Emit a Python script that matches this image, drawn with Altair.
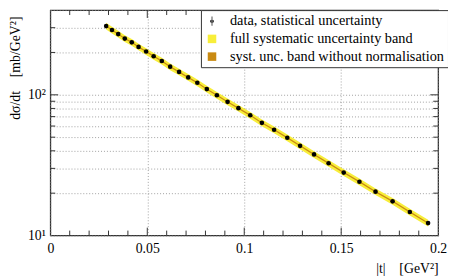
import altair as alt
import pandas as pd

# |t| values [GeV^2] and dsigma/dt [mb/GeV^2]
t_vals = [0.0288, 0.0318, 0.0350, 0.0384, 0.0420, 0.0455, 0.0494, 0.0533, 0.0575, 0.0618,
          0.0664, 0.0711, 0.0758, 0.0807, 0.0859, 0.0914, 0.0970, 0.1031, 0.1091, 0.1154,
          0.1222, 0.1288, 0.1360, 0.1435, 0.1513, 0.1594, 0.1677, 0.1765, 0.1854, 0.1948]
dsdt = [308, 289, 270, 251, 236, 219, 203, 188, 174, 158.5,
        145.5, 133, 121.8, 109.8, 99.4, 89.1, 80.4, 71.6, 63.2, 56.4,
        49.5, 43.4, 37.7, 32.6, 28.0, 24.1, 20.5, 17.5, 14.7, 12.25]
# relative systematic uncertainties (full / without normalisation)
syst_full = [0.055, 0.055, 0.055, 0.055, 0.055, 0.055, 0.055, 0.055, 0.055, 0.055,
             0.055, 0.055, 0.055, 0.055, 0.055, 0.055, 0.055, 0.055, 0.055, 0.055,
             0.055, 0.055, 0.055, 0.055, 0.055, 0.055, 0.055, 0.055, 0.055, 0.055]
syst_nonorm = [0.012, 0.012, 0.012, 0.012, 0.012, 0.012, 0.012, 0.012, 0.012, 0.012,
               0.012, 0.012, 0.012, 0.012, 0.012, 0.012, 0.012, 0.012, 0.012, 0.012,
               0.012, 0.012, 0.012, 0.012, 0.012, 0.012, 0.012, 0.012, 0.012, 0.012]

legend_labels = ["data, statistical uncertainty", "full systematic uncertainty band",
                 "syst. unc. band without normalisation"]
legend_colors = ["#000000", "#f8ee3a", "#c98a12"]

x_minor_ticks = [0.01, 0.02, 0.03, 0.04, 0.06, 0.07, 0.08, 0.09, 0.11, 0.12, 0.13, 0.14,
                 0.16, 0.17, 0.18, 0.19]
x_major_ticks = [0.05, 0.1, 0.15]
x_label_values = [0, 0.05, 0.1, 0.15, 0.2]
y_minor_ticks = [20, 30, 40, 50, 60, 70, 80, 90, 200, 300]
y_major_ticks = [100]
y_axis_values = [10, 20, 30, 40, 50, 60, 70, 80, 90, 100, 200, 300, 400]

W, H = 394, 229
FONT = "Liberation Serif"
FRAME = "#333333"
NB = "\u00a0"

df = pd.DataFrame({
    "t": t_vals,
    "v": dsdt,
    "full_lo": [v * (1 - s) for v, s in zip(dsdt, syst_full)],
    "full_hi": [v * (1 + s) for v, s in zip(dsdt, syst_full)],
    "nn_lo": [v * (1 - s) for v, s in zip(dsdt, syst_nonorm)],
    "nn_hi": [v * (1 + s) for v, s in zip(dsdt, syst_nonorm)],
})

xs = alt.Scale(domain=[0, 0.2], nice=False, zero=False)
ys = alt.Scale(type="log", domain=[10, 400], nice=False)

x_axis = alt.Axis(values=x_label_values, format=".2~f", ticks=False, domain=False,
                  grid=True, gridDash=[1, 2], gridColor="#888888", gridWidth=0.8,
                  labelFont=FONT, labelFontSize=14, labelColor="#000", labelPadding=6,
                  labelFlush=False,
                  title="|t|" + NB * 4 + "[GeV²]", titleFont=FONT, titleFontSize=14,
                  titleFontWeight="normal",
                  titleColor="#000", titleX=W, titleY=38, titleAlign="right",
                  titleBaseline="alphabetic", titleAnchor="end")
y_axis = alt.Axis(values=y_axis_values, ticks=False, domain=False,
                  grid=True, gridDash=[1, 2], gridColor="#888888", gridWidth=0.8,
                  labelExpr="datum.value == 10 ? '10¹' : (datum.value == 100 ? '10²' : '')",
                  labelFont=FONT, labelFontSize=14, labelColor="#000", labelPadding=5,
                  labelFlush=False,
                  title="dσ/dt" + NB * 4 + "[mb/GeV²]", titleFont=FONT, titleFontSize=14,
                  titleFontWeight="normal", titleColor="#000", titleAngle=270,
                  titleX=-35, titleY=6, titleAlign="right", titleBaseline="middle")

base = alt.Chart(df)

band_full = base.mark_area(color=legend_colors[1], opacity=1).encode(
    x=alt.X("t:Q", scale=xs, axis=x_axis),
    y=alt.Y("full_lo:Q", scale=ys, axis=y_axis),
    y2="full_hi:Q",
)
band_nn = base.mark_area(color=legend_colors[2], opacity=1).encode(
    x=alt.X("t:Q", scale=xs),
    y=alt.Y("nn_lo:Q", scale=ys),
    y2="nn_hi:Q",
)
points = base.mark_circle(color="black", size=22, opacity=1).encode(
    x=alt.X("t:Q", scale=xs),
    y=alt.Y("v:Q", scale=ys),
)

def xtick_layer(vals, length):
    d = pd.DataFrame({"t": vals})
    bottom = alt.Chart(d).mark_rule(color=FRAME, strokeWidth=1).encode(
        x=alt.X("t:Q", scale=xs), y=alt.value(H), y2=alt.value(H - length))
    top = alt.Chart(d).mark_rule(color=FRAME, strokeWidth=1).encode(
        x=alt.X("t:Q", scale=xs), y=alt.value(0), y2=alt.value(length))
    return [bottom, top]

def ytick_layer(vals, length):
    d = pd.DataFrame({"v": vals})
    left = alt.Chart(d).mark_rule(color=FRAME, strokeWidth=1).encode(
        y=alt.Y("v:Q", scale=ys), x=alt.value(0), x2=alt.value(length))
    right = alt.Chart(d).mark_rule(color=FRAME, strokeWidth=1).encode(
        y=alt.Y("v:Q", scale=ys), x=alt.value(W), x2=alt.value(W - length))
    return [left, right]

ticks = (xtick_layer(x_minor_ticks, 5) + xtick_layer(x_major_ticks, 8)
         + ytick_layer(y_minor_ticks, 5) + ytick_layer(y_major_ticks, 8))

errbar_path = ("M-0.42,0A0.42,0.42 0 1,0 0.42,0A0.42,0.42 0 1,0 -0.42,0Z"
               "M-0.08,-1.1H0.08V1.1H-0.08Z")
leg_df = pd.DataFrame({"label": legend_labels, "t": [-1, -1, -1], "v": [1, 1, 1]})
legend_layer = alt.Chart(leg_df).mark_point(filled=True, clip=True, opacity=1, size=70).encode(
    x=alt.X("t:Q", scale=xs),
    y=alt.Y("v:Q", scale=ys),
    color=alt.Color("label:N", scale=alt.Scale(domain=legend_labels, range=legend_colors),
                    legend=alt.Legend(title=None, orient="none", legendX=153, legendY=0,
                                      fillColor="white", strokeColor=FRAME,
                                      padding=4, labelFont=FONT, labelFontSize=14.5,
                                      labelColor="#000", labelLimit=400, labelOffset=11,
                                      symbolSize=75, symbolStrokeWidth=0, rowPadding=3,
                                      symbolOpacity=1)),
    shape=alt.Shape("label:N", scale=alt.Scale(domain=legend_labels,
                                               range=[errbar_path, "square", "square"]),
                    legend=alt.Legend(title=None)),
)

chart = alt.layer(band_full, band_nn, points, *ticks, legend_layer).properties(
    width=W, height=H,
    autosize=alt.AutoSizeParams(type="none"),
    padding={"left": 43, "top": 0, "right": 10, "bottom": 40},
).configure_view(stroke=FRAME, strokeWidth=1.3).configure_legend(strokeWidth=1)

chart.save("out.html", embed_options={"renderer": "svg", "actions": False})
